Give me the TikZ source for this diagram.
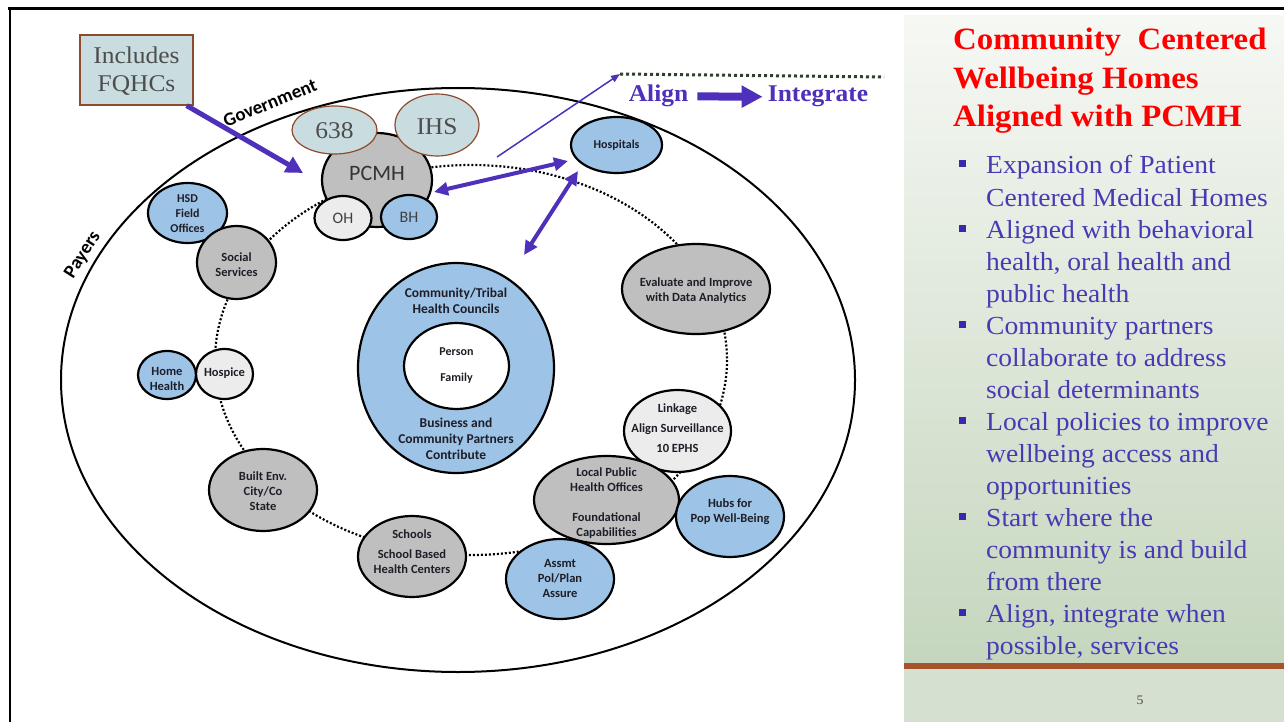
\documentclass[tikz,border=0pt]{standalone}
\usepackage{fontspec}
\setmainfont{Liberation Serif}
\newfontfamily\cambria[FakeStretch=1.06]{Liberation Serif}
\newfontfamily\calib{Carlito}
\usetikzlibrary{shapes.geometric,arrows.meta}
\definecolor{nblue}{RGB}{157,195,230}
\definecolor{ngray}{RGB}{191,191,191}
\definecolor{nlight}{RGB}{236,236,236}
\definecolor{boxfill}{RGB}{201,221,224}
\definecolor{boxedge}{RGB}{140,75,45}
\definecolor{arrowc}{RGB}{78,48,186}
\definecolor{titlered}{RGB}{255,0,0}
\definecolor{bullettext}{RGB}{72,58,180}
\definecolor{bulletsq}{RGB}{60,40,170}
\definecolor{barbrown}{RGB}{166,82,44}
\definecolor{paneltop}{RGB}{246,248,244}
\definecolor{panelbot}{RGB}{197,214,190}
\definecolor{panellow}{RGB}{213,224,208}
\definecolor{dotgreen}{RGB}{45,65,45}
\definecolor{labelc}{RGB}{30,30,40}
\definecolor{cgray}{RGB}{77,77,77}
\begin{document}
\begin{tikzpicture}[x=1pt,y=-1pt,
  bub/.style={ellipse, draw=black, line width=2.2pt, inner sep=0pt},
  bfill/.style={fill=nblue},
  gfill/.style={fill=ngray},
  lfill/.style={fill=nlight},
  lbl/.style={font=\calib\bfseries\fontsize{12.5}{15}\selectfont, align=center, text=labelc, inner sep=0pt},
  cbox/.style={fill=boxfill, draw=boxedge, line width=1.2pt, inner sep=0pt},
  ctext/.style={font=\cambria\fontsize{24}{28}\selectfont, text=cgray, align=center, inner sep=0pt},
  ring/.style={line width=2.2pt, dash pattern=on 2pt off 2pt},
  fatarrow/.style={draw=arrowc, line width=5pt, -{Triangle[length=17pt,width=17pt]}},
  dblarrow/.style={draw=arrowc, line width=4pt, {Triangle[length=14pt,width=13pt]}-{Triangle[length=14pt,width=13pt]}},
  thinarrow/.style={draw=arrowc, line width=1.5pt, -{Triangle[length=9pt,width=7pt]}},
  bigarrow/.style={draw=arrowc, line width=8pt, -{Triangle[length=21pt,width=21pt]}},
  titletext/.style={font=\cambria\bfseries\fontsize{31}{38}\selectfont, text=titlered, anchor=base west, inner sep=0pt},
  bullettxt/.style={font=\cambria\fontsize{26}{32}\selectfont, text=bullettext, anchor=base west, inner sep=0pt},
  sidelbl/.style={font=\calib\bfseries\fontsize{19}{22}\selectfont, text=black, inner sep=0pt}
]
\useasboundingbox (0,0) rectangle (1284,722);
\fill[white] (0,0) rectangle (1284,722);

% right panel
\shade[top color=paneltop, bottom color=panelbot] (904,16) rectangle (1284,663);
\fill[panellow] (904,669) rectangle (1284,722);
\fill[barbrown] (904,663) rectangle (1284,669);

% frame
\draw[line width=2.5pt] (8,8.5) -- (1284,8.5);
\draw[line width=2pt] (10,8) -- (10,722);

% outer ellipse and dotted ring
\draw[line width=2pt] (458,380) ellipse [x radius=397, y radius=292];
\draw[ring] (471,360) ellipse [x radius=256, y radius=195];

\node[sidelbl, rotate=22] (gov) at (270,103) {Government};
\node[sidelbl, rotate=57.5] (pay) at (83,255) {Payers};

% PCMH cluster
\node[bub, gfill, minimum width=110pt, minimum height=94pt] (pcmh) at (377,180) {};
\node[font=\calib\fontsize{22}{24}\selectfont, text=black!80, inner sep=0pt] (pcmht) at (377,173) {PCMH};
\node[bub, lfill, minimum width=57pt, minimum height=44pt] (oh) at (343,218) {};
\node[font=\calib\fontsize{16}{18}\selectfont, text=black!75, inner sep=0pt] (oht) at (343,218) {OH};
\node[bub, bfill, minimum width=56pt, minimum height=44pt] (bh) at (409,217) {};
\node[font=\calib\fontsize{16}{18}\selectfont, text=black!75, inner sep=0pt] (bht) at (409,217) {BH};
\node[ellipse, cbox, minimum width=85pt, minimum height=48pt] (e638) at (334.5,130) {};
\node[ctext] (e638t) at (334.5,131) {638};
\node[ellipse, cbox, minimum width=84pt, minimum height=62pt] (ihs) at (437,125) {};
\node[ctext] (ihst) at (437,127) {IHS};

% FQHC box
\node[cbox, minimum width=113pt, minimum height=70pt] (fq) at (136.5,70) {};
\node[ctext] (fqt) at (136.5,71) {Includes\\FQHCs};

% left nodes
\node[bub, bfill, minimum width=79pt, minimum height=60pt] (hsd) at (187.5,213) {};
\node[lbl, font=\calib\bfseries\fontsize{12}{15}\selectfont] (hsdt) at (187.5,214) {HSD\\Field\\Offices};
\node[bub, gfill, minimum width=79pt, minimum height=73pt] (soc) at (236.5,262.5) {};
\node[lbl] (soct) at (236.5,265) {Social\\Services};
\node[bub, bfill, minimum width=58pt, minimum height=48pt] (home) at (167,375) {};
\node[lbl] (homet) at (167,379) {Home\\Health};
\node[bub, lfill, minimum width=57pt, minimum height=50pt] (hospice) at (224.5,374) {};
\node[lbl] (hospicet) at (224.5,373) {Hospice};
\node[bub, gfill, minimum width=108pt, minimum height=82pt] (built) at (263,490) {};
\node[lbl] (builtt) at (263,491) {Built Env.\\City/Co\\State};
\node[bub, gfill, minimum width=108pt, minimum height=81pt] (school) at (412,556.5) {};
\node[lbl] (schoolt) at (412,552) {Schools\\[5pt]School Based\\Health Centers};

% community circle
\node[bub, bfill, minimum width=196pt, minimum height=210pt] (comm) at (456,368) {};
\node[bub, fill=white, minimum width=105pt, minimum height=86pt] (person) at (456.5,366) {};
\node[lbl, font=\calib\bfseries\fontsize{13.5}{16}\selectfont] (commt) at (456,301) {Community/Tribal\\Health Councils};
\node[lbl, font=\calib\bfseries\fontsize{12}{26}\selectfont] (persont) at (456.5,366) {Person\\Family};
\node[lbl, font=\calib\bfseries\fontsize{13.5}{16}\selectfont] (busit) at (456,439) {Business and\\Community Partners\\Contribute};

% right nodes
\node[bub, bfill, minimum width=91pt, minimum height=56pt] (hosp) at (616.5,145) {};
\node[lbl, font=\calib\bfseries\fontsize{12}{15}\selectfont] (hospt) at (616.5,145) {Hospitals};
\node[bub, gfill, minimum width=148pt, minimum height=90pt] (eval) at (696,289) {};
\node[lbl] (evalt) at (696,291) {Evaluate and Improve\\with Data Analytics};
\node[bub, lfill, minimum width=107pt, minimum height=82pt] (link) at (677.5,431) {};
\node[lbl, font=\calib\bfseries\fontsize{12.5}{20}\selectfont] (linkt) at (677.5,428) {Linkage\\Align Surveillance\\10 EPHS};
\node[bub, gfill, minimum width=145pt, minimum height=88pt] (lpho) at (606.5,500) {};
\node[lbl] (lphot) at (606.5,503) {Local Public\\Health Offices\\[15pt]Foundational\\Capabilities};
\node[bub, bfill, minimum width=108pt, minimum height=81pt] (hubs) at (730,516.5) {};
\node[lbl] (hubst) at (730,512) {Hubs for\\Pop Well-Being};
\node[bub, bfill, minimum width=108pt, minimum height=80pt] (assmt) at (560,579) {};
\node[lbl] (assmtt) at (560,578) {Assmt\\Pol/Plan\\Assure};

% arrows
\coordinate (fqtip) at (303,173);
\draw[fatarrow] ([xshift=-7pt]fq.south east) -- (fqtip);
\coordinate (d1a) at (434,192);
\coordinate (d1b) at (568,161);
\draw[dblarrow] (d1a) -- (d1b);
\coordinate (d2a) at (578,171);
\coordinate (d2b) at (524,255);
\draw[dblarrow] (d2a) -- (d2b);
\coordinate (thinstart) at (497,157);
\coordinate (dotl) at (620,74);
\coordinate (dotr) at (884,77);
\draw[thinarrow] (thinstart) -- (dotl);
\draw[dotgreen, line width=3pt, dash pattern=on 3pt off 3pt] (dotl) -- (dotr);

\node[font=\cambria\bfseries\fontsize{24}{28}\selectfont, text=arrowc, inner sep=0pt, anchor=base] (align) at (658.5,102) {Align};
\node[font=\cambria\bfseries\fontsize{24}{28}\selectfont, text=arrowc, inner sep=0pt, anchor=base] (integ) at (818,102) {Integrate};
\draw[bigarrow, shorten <=9pt, shorten >=5pt] (align.east) -- (integ.west);

% title
\node[titletext] (t1) at (953,50) {Community\ \ Centered};
\node[titletext] (t2) at (953,89) {Wellbeing Homes};
\node[titletext] (t3) at (953,127) {Aligned with PCMH};

% bullets
\foreach \yy/\tx in {174/{Expansion of Patient}, 206/{Centered Medical Homes}, 238/{Aligned with behavioral}, 270/{health, oral health and}, 302/{public health}, 334/{Community partners}, 366/{collaborate to address}, 398/{social determinants}, 430/{Local policies to improve}, 462/{wellbeing access and}, 494/{opportunities}, 526/{Start where the}, 558/{community is and build}, 590/{from there}, 622/{Align, integrate when}, 654/{possible, services}}
  \node[bullettxt] (line\yy) at (986,\yy) {\tx};
\foreach \yy in {164,228,324,420,516,612}
  \node[fill=bulletsq, minimum size=7pt, inner sep=0pt] (sq\yy) at (962,\yy) {};

\node[font=\cambria\fontsize{13}{15}\selectfont, text=black!70, inner sep=0pt] (pnum) at (1140,700) {5};
\end{tikzpicture}
\end{document}
